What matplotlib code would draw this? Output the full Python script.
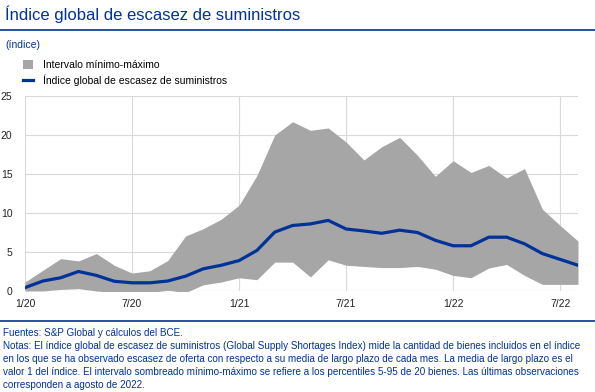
import matplotlib
matplotlib.use("Agg")
import matplotlib.pyplot as plt
import numpy as np

plt.rcParams['font.family'] = ['Liberation Sans', 'DejaVu Sans']

# Monthly data, 1/20 to 8/22
months = [f"{m}/{y}" for y in (20, 21, 22) for m in range(1, 13)][:32]

indice = [0.43, 1.28, 1.7, 2.5, 2.0, 1.25, 1.05, 1.05, 1.28, 1.9, 2.85, 3.3,
          3.9, 5.2, 7.55, 8.4, 8.6, 9.05, 7.95, 7.7, 7.4, 7.8, 7.5, 6.5,
          5.8, 5.8, 6.9, 6.9, 6.05, 4.8, 4.05, 3.3]
maximo = [1.15, 2.65, 4.15, 3.85, 4.8, 3.3, 2.3, 2.6, 3.9, 7.05, 8.0, 9.2,
          11.0, 14.8, 20.0, 21.7, 20.6, 20.9, 19.1, 16.8, 18.5, 19.7, 17.4, 14.7,
          16.7, 15.2, 16.1, 14.5, 15.7, 10.5, 8.4, 6.4]
minimo = [0.0, 0.0, 0.2, 0.3, 0.0, -0.2, -0.2, -0.2, 0.1, -0.2, 0.8, 1.15,
          1.7, 1.45, 3.7, 3.7, 1.8, 4.0, 3.3, 3.15, 3.0, 3.0, 3.15, 2.8,
          2.0, 1.7, 2.95, 3.4, 2.0, 0.85, 0.85, 0.85]

tick_labels = ["1/20", "7/20", "1/21", "7/21", "1/22", "7/22"]

blue = "#003299"
x = np.arange(len(months))

fig = plt.figure(figsize=(5.95, 3.92), dpi=100)
ax = fig.add_axes([25 / 595, 1 - 291 / 392, (578 - 25) / 595, (291 - 96) / 392])

ax.fill_between(x, minimo, maximo, color="#a6a6a6", lw=0, label="Intervalo mínimo-máximo")
ax.plot(x, indice, color=blue, lw=2.3, label="Índice global de escasez de suministros")

ax.set_xlim(0, len(months) - 1)
ax.set_ylim(0, 25)
ax.set_yticks([0, 5, 10, 15, 20, 25])
tick_pos = [months.index(t) for t in tick_labels]
ax.set_xticks(tick_pos)
ax.set_xticklabels(tick_labels)
ax.grid(True, color="#d9d9d9", lw=0.8)
ax.set_axisbelow(True)
for s in ax.spines.values():
    s.set_visible(False)
ax.axhline(0, color="#d9d9d9", lw=0.8, zorder=0)
ax.tick_params(length=0, labelsize=7.5, colors="#222222", pad=6)
ax.tick_params(axis="y", pad=9)

# legend
h, l = ax.get_legend_handles_labels()
fig.legend(h, l, loc="upper left", bbox_to_anchor=(23 / 595, 1 - 60 / 392), frameon=False,
           fontsize=7.5, handlelength=1.0, handleheight=1.0, labelspacing=0.4,
           handletextpad=0.95, borderaxespad=0, borderpad=0)

# title, header lines, notes
fig.text(5 / 595, 1 - 14 / 392, "Índice global de escasez de suministros", color=blue,
         fontsize=12, va="center", ha="left")
fig.add_artist(plt.Line2D([0, 1], [1 - 30 / 392] * 2, color=blue, lw=1.2))
fig.text(5 / 595, 1 - 45 / 392, "(índice)", color=blue, fontsize=7.5, va="center")
fig.add_artist(plt.Line2D([0, 1], [1 - 321 / 392] * 2, color=blue, lw=1.2))

notes = ("Fuentes: S&P Global y cálculos del BCE.\n"
         "Notas: El índice global de escasez de suministros (Global Supply Shortages Index) mide la cantidad de bienes incluidos en el índice\n"
         "en los que se ha observado escasez de oferta con respecto a su media de largo plazo de cada mes. La media de largo plazo es el\n"
         "valor 1 del índice. El intervalo sombreado mínimo-máximo se refiere a los percentiles 5-95 de 20 bienes. Las últimas observaciones\n"
         "corresponden a agosto de 2022.")
fig.text(3 / 595, 1 - 328 / 392, notes, color=blue, fontsize=7.1, va="top", ha="left",
         linespacing=1.38)

fig.savefig("out.png", dpi=100)
